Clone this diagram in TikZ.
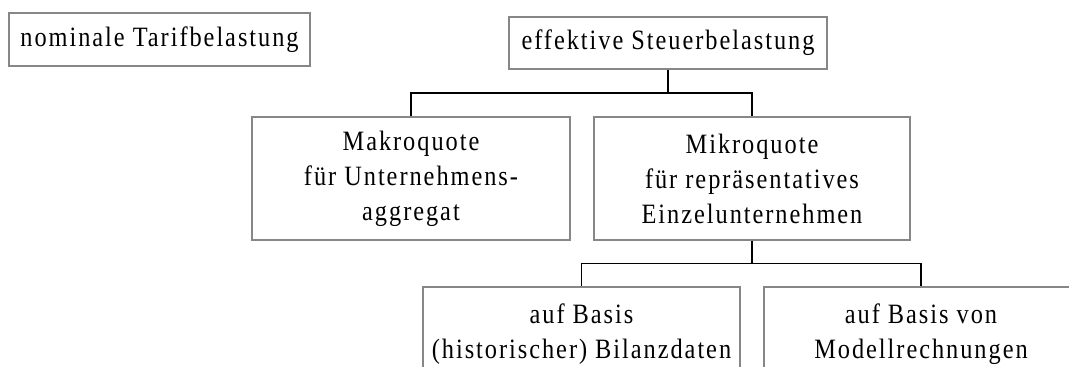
\documentclass[tikz,border=0pt]{standalone}
\usepackage{fontspec}
\setmainfont{Liberation Serif}[LetterSpace=7, FakeStretch=0.87]
\usetikzlibrary{calc}
\begin{document}
\begin{tikzpicture}[x=1pt,y=-1pt,
  box/.style={draw={rgb,255:red,135;green,135;blue,135}, line width=1.1pt, rectangle, inner sep=0pt,
    align=center, font=\fontsize{28}{35}\selectfont, text=black},
  conn/.style={draw=black, line width=1.5pt}]
\useasboundingbox (0,0) rectangle (1069,367);
\clip (0,0) rectangle (1069,367);
\node[box, minimum width=301pt, minimum height=53pt] (nom) at (159.5,39.5) {nominale Tarifbelastung};
\node[box, minimum width=318pt, minimum height=52pt] (eff) at (668,43) {effektive Steuerbelastung};
\node[box, minimum width=318pt, minimum height=123pt] (makro) at (411,178.5) {Makroquote\\für Unternehmens-\\aggregat};
\node[box, minimum width=316pt, minimum height=123pt] (mikro) at (752,178.5) {Mikroquote\\für repräsentatives\\Einzelunternehmen};
\node[box, minimum width=317pt, minimum height=123pt] (bil) at (581.5,348.5) {auf Basis\\(historischer) Bilanzdaten\\\mbox{}};
\node[box, minimum width=314pt, minimum height=123pt] (mod) at (921,348.5) {auf Basis von\\Modellrechnungen\\\mbox{}};
\draw[conn] (eff.south) -- ($(eff.south)!0.5!(eff.south|-makro.north)$) -| (makro.north);
\draw[conn] ($(eff.south)!0.5!(eff.south|-makro.north)$) -| (mikro.north);
\draw[conn] (mikro.south) -- ($(mikro.south)!0.5!(mikro.south|-bil.north)$) -| (bil.north);
\draw[conn] ($(mikro.south)!0.5!(mikro.south|-bil.north)$) -| (mod.north);
\end{tikzpicture}
\end{document}
